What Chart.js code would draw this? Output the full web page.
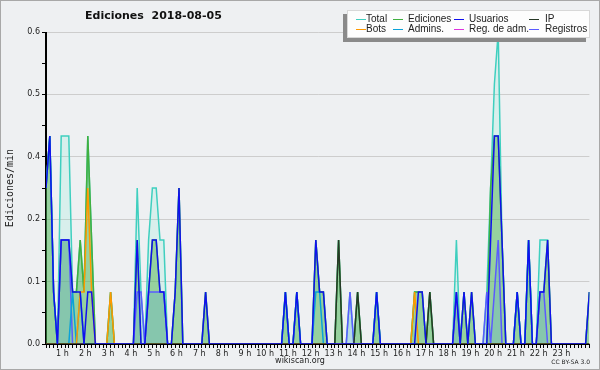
<!DOCTYPE html>
<html>
<head>
<meta charset="utf-8">
<script src="https://cdn.jsdelivr.net/npm/chart.js@4"></script>
<style>
  body { margin: 0; background: #eef0f2; }
  canvas { display: block; }
</style>
</head>
<body>
<canvas id="myChart" width="600" height="370"></canvas>
<script>
// 10-minute bins, 0h00 .. 23h50 (edits per minute)
var total = [
    0.3, 0.4, 0.1, 0, 0.4, 0.4, 0.4, 0.1, 0.1, 0.2, 0.1, 0.4,
    0.2, 0, 0, 0, 0, 0.1, 0, 0, 0, 0, 0, 0,
    0.3, 0.1, 0, 0.2, 0.3, 0.3, 0.2, 0.2, 0, 0, 0.1, 0.3,
    0, 0, 0, 0, 0, 0, 0.1, 0, 0, 0, 0, 0,
    0, 0, 0, 0, 0, 0, 0, 0, 0, 0, 0, 0,
    0, 0, 0, 0.1, 0, 0, 0.1, 0, 0, 0, 0, 0.2,
    0.1, 0.1, 0, 0, 0, 0.2, 0, 0, 0.1, 0, 0.1, 0,
    0, 0, 0, 0.1, 0, 0, 0, 0, 0, 0, 0, 0,
    0, 0.1, 0.1, 0.1, 0, 0.1, 0, 0, 0, 0, 0, 0,
    0.2, 0, 0.1, 0, 0.1, 0, 0, 0, 0.1, 0.3, 0.5, 0.6,
    0.2, 0, 0, 0, 0.1, 0, 0, 0.2, 0, 0, 0.2, 0.2,
    0.2, 0, 0, 0, 0, 0, 0, 0, 0, 0, 0, 0.1
];
var ediciones = [
    0.3, 0.4, 0.1, 0, 0.2, 0.2, 0.2, 0.1, 0.1, 0.2, 0.1, 0.4,
    0.2, 0, 0, 0, 0, 0.1, 0, 0, 0, 0, 0, 0,
    0.2, 0, 0, 0.1, 0.2, 0.2, 0.1, 0.1, 0, 0, 0.1, 0.3,
    0, 0, 0, 0, 0, 0, 0.1, 0, 0, 0, 0, 0,
    0, 0, 0, 0, 0, 0, 0, 0, 0, 0, 0, 0,
    0, 0, 0, 0.1, 0, 0, 0.1, 0, 0, 0, 0, 0.2,
    0.1, 0.1, 0, 0, 0, 0.2, 0, 0, 0, 0, 0.1, 0,
    0, 0, 0, 0.1, 0, 0, 0, 0, 0, 0, 0, 0,
    0, 0.1, 0.1, 0.1, 0, 0.1, 0, 0, 0, 0, 0, 0,
    0.1, 0, 0.1, 0, 0.1, 0, 0, 0, 0, 0.3, 0.4, 0.4,
    0.2, 0, 0, 0, 0.1, 0, 0, 0.2, 0, 0, 0.1, 0.1,
    0.2, 0, 0, 0, 0, 0, 0, 0, 0, 0, 0, 0.1
];
var usuarios = [
    0.3, 0.4, 0.1, 0, 0.2, 0.2, 0.2, 0.1, 0.1, 0.1, 0, 0.1,
    0.1, 0, 0, 0, 0, 0, 0, 0, 0, 0, 0, 0,
    0.2, 0, 0, 0.1, 0.2, 0.2, 0.1, 0.1, 0, 0, 0.1, 0.3,
    0, 0, 0, 0, 0, 0, 0.1, 0, 0, 0, 0, 0,
    0, 0, 0, 0, 0, 0, 0, 0, 0, 0, 0, 0,
    0, 0, 0, 0.1, 0, 0, 0.1, 0, 0, 0, 0, 0.2,
    0.1, 0.1, 0, 0, 0, 0, 0, 0, 0, 0, 0, 0,
    0, 0, 0, 0.1, 0, 0, 0, 0, 0, 0, 0, 0,
    0, 0, 0.1, 0.1, 0, 0, 0, 0, 0, 0, 0, 0,
    0.1, 0, 0.1, 0, 0.1, 0, 0, 0, 0, 0.2, 0.4, 0.4,
    0.2, 0, 0, 0, 0.1, 0, 0, 0.2, 0, 0, 0.1, 0.1,
    0.2, 0, 0, 0, 0, 0, 0, 0, 0, 0, 0, 0.1
];
var ip = [
    0, 0, 0, 0, 0, 0, 0, 0, 0, 0, 0, 0,
    0, 0, 0, 0, 0, 0, 0, 0, 0, 0, 0, 0,
    0, 0, 0, 0, 0, 0, 0, 0, 0, 0, 0, 0,
    0, 0, 0, 0, 0, 0, 0, 0, 0, 0, 0, 0,
    0, 0, 0, 0, 0, 0, 0, 0, 0, 0, 0, 0,
    0, 0, 0, 0, 0, 0, 0, 0, 0, 0, 0, 0,
    0, 0, 0, 0, 0, 0.2, 0, 0, 0, 0, 0.1, 0,
    0, 0, 0, 0, 0, 0, 0, 0, 0, 0, 0, 0,
    0, 0, 0, 0, 0, 0.1, 0, 0, 0, 0, 0, 0,
    0, 0, 0, 0, 0, 0, 0, 0, 0, 0, 0, 0,
    0, 0, 0, 0, 0, 0, 0, 0, 0, 0, 0, 0,
    0, 0, 0, 0, 0, 0, 0, 0, 0, 0, 0, 0
];
var bots = [
    0, 0, 0, 0, 0, 0, 0, 0, 0, 0.1, 0.1, 0.3,
    0.1, 0, 0, 0, 0, 0.1, 0, 0, 0, 0, 0, 0,
    0, 0, 0, 0, 0, 0, 0, 0, 0, 0, 0, 0,
    0, 0, 0, 0, 0, 0, 0, 0, 0, 0, 0, 0,
    0, 0, 0, 0, 0, 0, 0, 0, 0, 0, 0, 0,
    0, 0, 0, 0, 0, 0, 0, 0, 0, 0, 0, 0,
    0, 0, 0, 0, 0, 0, 0, 0, 0, 0, 0, 0,
    0, 0, 0, 0, 0, 0, 0, 0, 0, 0, 0, 0,
    0, 0.1, 0, 0, 0, 0, 0, 0, 0, 0, 0, 0,
    0, 0, 0, 0, 0, 0, 0, 0, 0, 0, 0, 0,
    0, 0, 0, 0, 0, 0, 0, 0, 0, 0, 0, 0,
    0, 0, 0, 0, 0, 0, 0, 0, 0, 0, 0, 0
];
var admins = [
    0.3, 0.4, 0.1, 0, 0, 0, 0, 0.1, 0, 0.1, 0, 0,
    0, 0, 0, 0, 0, 0, 0, 0, 0, 0, 0, 0,
    0, 0, 0, 0, 0, 0, 0, 0, 0, 0, 0, 0,
    0, 0, 0, 0, 0, 0, 0, 0, 0, 0, 0, 0,
    0, 0, 0, 0, 0, 0, 0, 0, 0, 0, 0, 0,
    0, 0, 0, 0.1, 0, 0, 0.1, 0, 0, 0, 0, 0.1,
    0.1, 0, 0, 0, 0, 0, 0, 0, 0, 0, 0, 0,
    0, 0, 0, 0.1, 0, 0, 0, 0, 0, 0, 0, 0,
    0, 0, 0, 0, 0, 0, 0, 0, 0, 0, 0, 0,
    0, 0, 0, 0, 0, 0, 0, 0, 0, 0, 0, 0,
    0, 0, 0, 0, 0.1, 0, 0, 0.2, 0, 0, 0, 0,
    0, 0, 0, 0, 0, 0, 0, 0, 0, 0, 0, 0
];
var regAdm = [
    0, 0, 0, 0, 0, 0, 0, 0, 0, 0, 0, 0,
    0, 0, 0, 0, 0, 0, 0, 0, 0, 0, 0, 0,
    0, 0, 0, 0, 0, 0, 0, 0, 0, 0, 0, 0,
    0, 0, 0, 0, 0, 0, 0, 0, 0, 0, 0, 0,
    0, 0, 0, 0, 0, 0, 0, 0, 0, 0, 0, 0,
    0, 0, 0, 0, 0, 0, 0, 0, 0, 0, 0, 0,
    0, 0, 0, 0, 0, 0, 0, 0, 0, 0, 0, 0,
    0, 0, 0, 0, 0, 0, 0, 0, 0, 0, 0, 0,
    0, 0, 0, 0, 0, 0, 0, 0, 0, 0, 0, 0,
    0, 0, 0, 0, 0, 0, 0, 0, 0, 0, 0, 0,
    0, 0, 0, 0, 0, 0, 0, 0, 0, 0, 0, 0,
    0, 0, 0, 0, 0, 0, 0, 0, 0, 0, 0, 0
];
var registros = [
    0, 0, 0, 0, 0.2, 0.2, 0.2, 0, 0, 0, 0, 0,
    0, 0, 0, 0, 0, 0, 0, 0, 0, 0, 0, 0,
    0.1, 0.1, 0, 0.1, 0.1, 0.1, 0.1, 0.1, 0, 0, 0, 0,
    0, 0, 0, 0, 0, 0, 0, 0, 0, 0, 0, 0,
    0, 0, 0, 0, 0, 0, 0, 0, 0, 0, 0, 0,
    0, 0, 0, 0, 0, 0, 0, 0, 0, 0, 0, 0,
    0, 0, 0, 0, 0, 0, 0, 0, 0.1, 0, 0, 0,
    0, 0, 0, 0, 0, 0, 0, 0, 0, 0, 0, 0,
    0, 0, 0, 0, 0, 0, 0, 0, 0, 0, 0, 0,
    0.1, 0, 0, 0, 0, 0, 0, 0, 0.1, 0, 0.1, 0.2,
    0, 0, 0, 0, 0, 0, 0, 0, 0, 0, 0.1, 0.1,
    0, 0, 0, 0, 0, 0, 0, 0, 0, 0, 0, 0
];

var yTicks = [0, 0.06, 0.12, 0.18, 0.24, 0.3, 0.36, 0.42, 0.48, 0.54, 0.6];
var legendNames = ["Total", "Ediciones", "Usuarios", "IP", "Bots", "Admins.", "Reg. de adm.", "Registros"];

function pts(arr) {
    return arr.map(function (v, i) { return { x: i, y: v }; });
}

function line(label, values, color, order, fillColor) {
    return {
        label: label,
        data: pts(values),
        borderColor: color,
        backgroundColor: fillColor || color,
        fill: fillColor ? 'origin' : false,
        borderWidth: 1.5,
        pointRadius: 0,
        tension: 0,
        order: order
    };
}

var datasets = [
    line(legendNames[0], total, '#3fcfbf', 8, 'rgba(91,233,202,0.15)'),
    line(legendNames[1], ediciones, '#40b040', 7, 'rgba(72,172,64,0.45)'),
    line(legendNames[7], registros, '#5a5aff', 6, 'rgba(98,173,209,0.3)'),
    line(legendNames[6], regAdm, '#dd33dd', 5),
    line(legendNames[5], admins, '#0aa2d8', 4),
    line(legendNames[4], bots, '#ff9900', 3),
    line(legendNames[3], ip, '#263826', 2),
    line(legendNames[2], usuarios, '#1010ee', 1)
];
var legendColors = ['#3fcfbf', '#40b040', '#1010ee', '#263826', '#ff9900', '#0aa2d8', '#dd33dd', '#5a5aff'];

var decor = {
    id: 'decor',
    beforeDraw: function (chart) {
        var c = chart.ctx;
        c.save();
        c.fillStyle = '#eef0f2';
        c.fillRect(0, 0, 600, 370);
        c.strokeStyle = '#a8a8a8';
        c.lineWidth = 1;
        c.strokeRect(0.5, 0.5, 599, 369);
        c.restore();
    },
    afterDatasetsDraw: function (chart) {
        var c = chart.ctx, a = chart.chartArea;
        c.save();
        c.strokeStyle = '#000';
        c.lineWidth = 1;
        c.beginPath();
        c.moveTo(45.5, a.top);
        c.lineTo(45.5, 344.5);
        c.lineTo(a.right, 344.5);
        c.stroke();
        c.restore();
    },
    afterDraw: function (chart) {
        var c = chart.ctx;
        c.save();
        c.fillStyle = '#111';
        c.textBaseline = 'middle';
        c.font = 'bold 11px "DejaVu Sans"';
        c.fillText('Ediciones  2018-08-05', 85, 16);

        // legend box
        c.fillStyle = '#8a8a8a';
        c.fillRect(343, 14, 243, 28);
        c.fillStyle = '#fdfdfd';
        c.fillRect(347, 10, 243, 28);
        c.strokeStyle = '#d8d8d8';
        c.strokeRect(347.5, 10.5, 242, 27);
        var sw = [356, 393, 454, 529];
        var tx = [366, 408, 469, 545];
        c.font = '10px "Liberation Sans"';
        for (var i = 0; i < 8; i++) {
            var col = i % 4, y = i < 4 ? 19 : 29;
            c.strokeStyle = legendColors[i];
            c.lineWidth = 1;
            c.beginPath();
            c.moveTo(sw[col], y + 0.5);
            c.lineTo(sw[col] + 10, y + 0.5);
            c.stroke();
            c.fillStyle = '#222';
            c.fillText(legendNames[i], tx[col], y);
        }

        // axis titles
        c.fillStyle = '#222';
        c.textAlign = 'center';
        c.font = '8px "DejaVu Sans"';
        c.fillText('wikiscan.org', 300, 361);
        c.textAlign = 'right';
        c.font = '6px "DejaVu Sans"';
        c.fillText('CC BY-SA 3.0', 590, 362);
        c.translate(10, 188);
        c.rotate(-Math.PI / 2);
        c.textAlign = 'center';
        c.font = '10px "DejaVu Sans Mono"';
        c.fillText('Ediciones/min', 0, 0);
        c.restore();
    }
};

const config = {
    type: 'line',
    data: { datasets: datasets },
    options: {
        responsive: false,
        animation: false,
        devicePixelRatio: 1,
        layout: { padding: { top: 32, left: 0, right: 10.6, bottom: 0 } },
        plugins: {
            legend: { display: false },
            tooltip: { enabled: false },
            title: { display: false }
        },
        scales: {
            x: {
                type: 'linear',
                min: 0,
                max: 143,
                afterBuildTicks: function (s) {
                    s.ticks = total.map(function (v, i) { return { value: i }; });
                },
                afterFit: function (s) { s.height = 26; },
                ticks: {
                    autoSkip: false,
                    maxRotation: 0,
                    minRotation: 0,
                    align: 'end',
                    padding: 1,
                    color: '#222',
                    font: { family: 'DejaVu Sans', size: 8 },
                    callback: function (v) {
                        return (v % 6 === 0 && v > 0) ? (v / 6) + ' h' : '';
                    }
                },
                grid: { drawOnChartArea: false, tickLength: 4, tickColor: '#000' },
                border: { color: '#000' }
            },
            y: {
                min: 0,
                max: 0.6,
                afterBuildTicks: function (s) {
                    s.ticks = yTicks.map(function (v) { return { value: v }; });
                },
                afterFit: function (s) { s.width = 46; },
                ticks: {
                    padding: 2,
                    color: '#222',
                    font: { family: 'DejaVu Sans', size: 8 },
                    callback: function (v, i) {
                        return i % 2 === 0 ? v.toFixed(1) : '';
                    }
                },
                grid: {
                    color: function (ctx) { return ctx.index % 2 === 0 ? '#cdcdcd' : 'rgba(0,0,0,0)'; },
                    tickColor: '#000',
                    tickLength: 4
                },
                border: { color: '#000' }
            }
        }
    },
    plugins: [decor]
};

var ctx = document.getElementById('myChart').getContext('2d');
var myLineChart = new Chart(ctx, config);
</script>
</body>
</html>
